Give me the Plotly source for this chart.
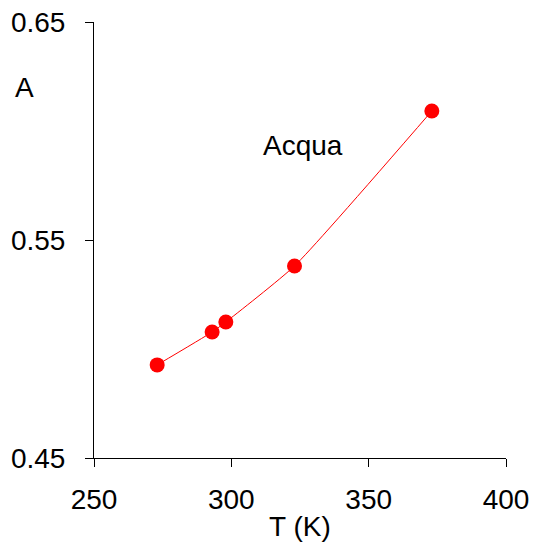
import plotly.graph_objects as go

temps = [273, 293, 298, 323, 373]
a_vals = [0.4927, 0.5078, 0.5124, 0.5381, 0.6092]
x_ticks = [250, 300, 350, 400]
y_ticks = [0.45, 0.55, 0.65]
y_labels = ["0.45", "0.55", "0.65"]

L, R, T, B = 94, 27, 22, 84
W, H = 533, 542
pw, ph = W - L - R, H - T - B

def px(xp):
    return (xp - L) / pw

def py(yp):
    return (H - B - yp) / ph

fig = go.Figure()
fig.add_trace(go.Scatter(
    x=temps, y=a_vals, mode="lines+markers",
    line=dict(color="#ff0000", width=1, shape="spline", smoothing=0.5),
    marker=dict(color="#ff0000", size=15),
    showlegend=False,
))

font = dict(family="Liberation Sans, Arial, sans-serif", size=28, color="black")

fig.update_layout(
    width=W, height=H,
    margin=dict(l=L, r=R, t=T, b=B),
    paper_bgcolor="white", plot_bgcolor="white",
    font=font,
    xaxis=dict(range=[250, 400], tickvals=x_ticks, ticks="outside", ticklen=8,
               tickcolor="black", showline=True, linecolor="black", linewidth=1,
               showgrid=False, zeroline=False, tickfont=font, automargin=False,
               ticklabelstandoff=8),
    yaxis=dict(range=[0.45, 0.65], tickvals=y_ticks, ticktext=y_labels,
               ticks="outside", ticklen=8, tickcolor="black", showline=True,
               linecolor="black", linewidth=1, showgrid=False, zeroline=False,
               tickfont=font, automargin=False, ticklabelstandoff=14),
    annotations=[
        dict(text="A", x=px(24), y=py(88), xref="paper", yref="paper",
             showarrow=False, xanchor="center", yanchor="middle", font=font),
        dict(text="Acqua", x=px(303), y=py(145), xref="paper", yref="paper",
             showarrow=False, xanchor="center", yanchor="middle", font=font),
        dict(text="T (K)", x=px(300), y=py(526), xref="paper", yref="paper",
             showarrow=False, xanchor="center", yanchor="middle", font=font),
    ],
)
fig.write_html("out.html")
